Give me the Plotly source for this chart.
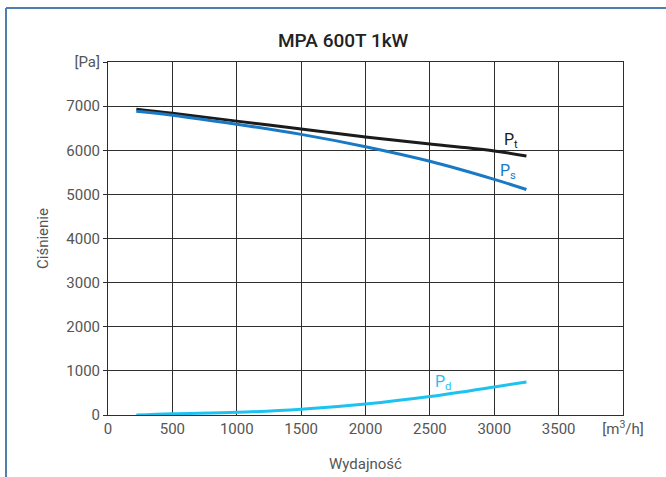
import plotly.graph_objects as go

# Data
flow = [220, 500, 1000, 1500, 2000, 2500, 3000, 3250]
p_total = [6930, 6840, 6660, 6480, 6300, 6140, 5985, 5870]
p_static = [6885, 6795, 6590, 6360, 6080, 5750, 5340, 5110]
p_dynamic = [0, 30, 60, 130, 250, 420, 635, 750]

x_ticks = [0, 500, 1000, 1500, 2000, 2500, 3000, 3500, 4000]
x_ticktext = ["0", "500", "1000", "1500", "2000", "2500", "3000", "3500", "[m<sup>3</sup>/h]"]
y_ticks = [0, 1000, 2000, 3000, 4000, 5000, 6000, 7000, 8000]
y_ticktext = ["0", "1000", "2000", "3000", "4000", "5000", "6000", "7000", "[Pa]"]

FONT = "Roboto, sans-serif"
GRID = "#2e2e2e"

fig = go.Figure()
fig.add_trace(go.Scatter(x=flow, y=p_total, mode="lines", line=dict(color="#1b1b1b", width=3, shape="spline"), showlegend=False))
fig.add_trace(go.Scatter(x=flow, y=p_static, mode="lines", line=dict(color="#1a79c4", width=3, shape="spline"), showlegend=False))
fig.add_trace(go.Scatter(x=flow, y=p_dynamic, mode="lines", line=dict(color="#1ec2f0", width=3, shape="spline"), showlegend=False))

L, R, T, B = 108, 43, 62, 62
W, H = 666, 477
pw, ph = W - L - R, H - T - B

fig.update_layout(
    width=W, height=H,
    margin=dict(l=L, r=R, t=T, b=B, autoexpand=False),
    paper_bgcolor="white", plot_bgcolor="white",
    font=dict(family=FONT, color="#555555", size=15),
    xaxis=dict(range=[0, 4000], tickvals=x_ticks, ticktext=x_ticktext, automargin=False,
               showgrid=True, gridcolor=GRID, gridwidth=1,
               showline=True, linecolor=GRID, linewidth=1, mirror=True,
               zeroline=False, ticks="", tickfont=dict(size=15, color="#555555"),
               title=dict(text="Wydajność", font=dict(size=15, color="#555555"), standoff=21)),
    yaxis=dict(range=[0, 8000], tickvals=y_ticks, ticktext=y_ticktext, automargin=False,
               showgrid=True, gridcolor=GRID, gridwidth=1,
               showline=True, linecolor=GRID, linewidth=1, mirror=True,
               zeroline=False, ticks="outside", ticklen=4, tickcolor=GRID,
               tickfont=dict(size=15, color="#555555"),
               title=dict(text="Ciśnienie", font=dict(size=15, color="#555555"), standoff=14)),
)

# Title
fig.add_annotation(xref="paper", yref="paper", x=(343 - L) / pw, y=1 + (T - 40) / ph,
                   text="MPA 600T 1kW", showarrow=False,
                   font=dict(family=FONT, size=19, color="#222222", weight=500), xanchor="center", yanchor="middle")

# Curve labels
fig.add_annotation(x=3130, y=6230, text="P<sub>t</sub>", showarrow=False,
                   font=dict(family=FONT, size=16, color="#1b1b1b"))
fig.add_annotation(x=3110, y=5520, text="P<sub>s</sub>", showarrow=False,
                   font=dict(family=FONT, size=16, color="#1a79c4"))
fig.add_annotation(x=2600, y=730, text="P<sub>d</sub>", showarrow=False,
                   font=dict(family=FONT, size=16, color="#1ec2f0"))

# Outer frame (left and top edges)
bx = (6 - L) / pw
by = 1 + (T - 8) / ph
fig.add_shape(type="line", xref="paper", yref="paper", x0=bx, x1=bx, y0=-0.3, y1=by,
              line=dict(color="#4f7fae", width=2))
fig.add_shape(type="line", xref="paper", yref="paper", x0=bx, x1=1.2, y0=by, y1=by,
              line=dict(color="#4f7fae", width=2))

fig.write_html("out.html", config={"displayModeBar": False},
               post_script="document.body.style.margin='0px';document.body.style.overflow='hidden';")
